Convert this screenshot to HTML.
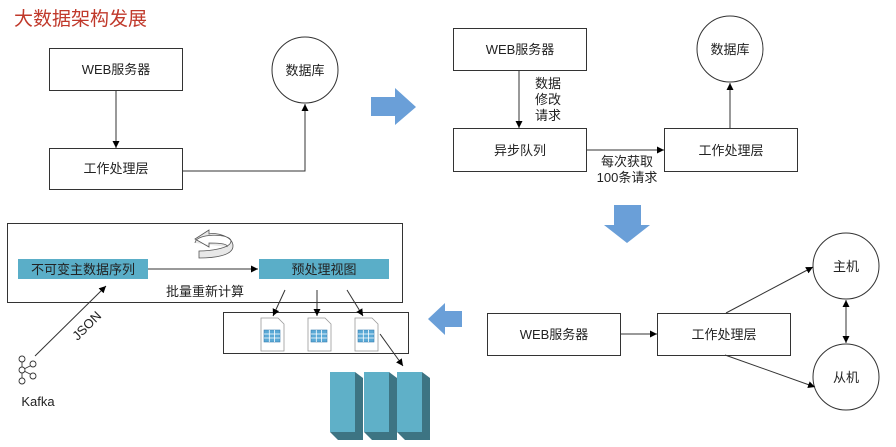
<!DOCTYPE html>
<html><head><meta charset="utf-8"><style>
html,body{margin:0;padding:0;background:#fff;}
svg{display:block;font-family:"Liberation Sans","Noto Sans CJK SC",sans-serif;}
</style></head><body>
<svg width="896" height="447" viewBox="0 0 896 447" xmlns="http://www.w3.org/2000/svg">
<defs>
<marker id="a" markerWidth="8" markerHeight="8" refX="7" refY="4" orient="auto" markerUnits="userSpaceOnUse"><path d="M0,0.5 L7,4 L0,7.5z" fill="#000"/></marker>
<marker id="as" markerWidth="8" markerHeight="8" refX="1" refY="4" orient="auto" markerUnits="userSpaceOnUse"><path d="M8,0.5 L1,4 L8,7.5z" fill="#000"/></marker>
<g id="doc"><path d="M0,0 h17 l6,6 v27 h-23z" fill="#fff" stroke="#999" stroke-width="0.8"/><rect x="3" y="12" width="16" height="12" fill="#5aa9d6" stroke="#3a7fb0" stroke-width="0.6"/><path d="M3,16h16M3,20h16M8.3,12v12M13.6,12v12" stroke="#fff" stroke-width="0.8"/></g>
<g id="srv"><path d="M25,0 l8,6 v62 h-8z" fill="#3d7483"/><path d="M0,60 h25 l8,8 h-25z" fill="#3d7483"/><rect x="0" y="0" width="25" height="60" fill="#5fb0c8"/></g>
</defs>
<text x="14" y="25" font-size="19" fill="#c0392b">大数据架构发展</text>
<g stroke="#333" stroke-width="1" fill="#fff">
<rect x="49.5" y="48.5" width="133" height="42"/>
<rect x="49.5" y="148.5" width="133" height="41"/>
<circle cx="305" cy="70" r="33"/>
<rect x="453.5" y="28.5" width="133" height="42"/>
<rect x="453.5" y="128.5" width="133" height="43"/>
<rect x="664.5" y="128.5" width="133" height="43"/>
<circle cx="730" cy="49" r="33"/>
<rect x="487.5" y="313.5" width="133" height="42"/>
<rect x="657.5" y="313.5" width="133" height="42"/>
<circle cx="846" cy="266" r="33"/>
<circle cx="846" cy="377" r="33"/>
<rect x="7.5" y="223.5" width="395" height="79"/>
<rect x="223.5" y="312.5" width="185" height="41"/>
</g>
<g stroke="#333" stroke-width="1" fill="none">
<line x1="116" y1="91" x2="116" y2="148" marker-end="url(#a)"/>
<polyline points="182,171 305,171 305,104" marker-end="url(#a)"/>
<line x1="519" y1="71" x2="519" y2="128" marker-end="url(#a)"/>
<line x1="587" y1="150" x2="664" y2="150" marker-end="url(#a)"/>
<line x1="730" y1="128" x2="730" y2="83" marker-end="url(#a)"/>
<line x1="621" y1="334" x2="657" y2="334" marker-end="url(#a)"/>
<line x1="726" y1="313" x2="813" y2="267" marker-end="url(#a)"/>
<line x1="725" y1="355" x2="815" y2="387" marker-end="url(#a)"/>
<line x1="846" y1="300" x2="846" y2="343" marker-end="url(#a)" marker-start="url(#as)"/>
<line x1="148" y1="269" x2="258" y2="269" marker-end="url(#a)"/>
<line x1="35" y1="356" x2="106" y2="286" marker-end="url(#a)"/>
<line x1="285" y1="290" x2="273" y2="316" marker-end="url(#a)"/>
<line x1="317" y1="290" x2="317" y2="316" marker-end="url(#a)"/>
<line x1="347" y1="290" x2="363" y2="316" marker-end="url(#a)"/>
<line x1="380" y1="334" x2="403" y2="366" marker-end="url(#a)"/>
</g>
<g fill="#6a9fd8">
<path d="M371,97 h24 v-9 l21,19 l-21,18 v-9 h-24z"/>
<path d="M614,205 h27 v20 h9 l-23,18 l-23,-18 h10z"/>
<path d="M462,311 h-17 v-8 l-17,16 l17,16 v-8 h17z"/>
</g>
<rect x="18" y="259" width="130" height="20" fill="#5aaec8"/>
<rect x="259" y="259" width="130" height="20" fill="#5aaec8"/>
<path d="M195,243 c0,-10 36,-10 36,-2 c0,8 -24,10 -32,10 l0,7 c14,0 34,-2 34,-12 c0,-10 -18,-14 -24,-12 v-4 l-14,9 l14,8 v-4 c4,0 20,0 18,4" fill="#e8e8e8" stroke="#555" stroke-width="0.8"/>
<use href="#doc" x="261" y="318"/><use href="#doc" x="308" y="318"/><use href="#doc" x="355" y="318"/>
<use href="#srv" x="330" y="372"/><use href="#srv" x="364" y="372"/><use href="#srv" x="397" y="372"/>
<g stroke="#333" stroke-width="0.9" fill="#fff">
<line x1="22" y1="370" x2="32" y2="365"/><line x1="22" y1="370" x2="32" y2="375"/><line x1="22" y1="362" x2="22" y2="378"/>
<circle cx="22" cy="359" r="3"/><circle cx="22" cy="370" r="3"/><circle cx="22" cy="381" r="3"/><circle cx="33" cy="364" r="3"/><circle cx="33" cy="376" r="3"/>
</g>
<g font-size="13" fill="#222" text-anchor="middle">
<text x="116" y="74">WEB服务器</text>
<text x="116" y="173">工作处理层</text>
<text x="305" y="75">数据库</text>
<text x="520" y="54">WEB服务器</text>
<text x="520" y="155">异步队列</text>
<text x="731" y="155">工作处理层</text>
<text x="730" y="54">数据库</text>
<text x="548" y="88">数据</text><text x="548" y="104">修改</text><text x="548" y="120">请求</text>
<text x="627" y="166">每次获取</text><text x="627" y="182">100条请求</text>
<text x="554" y="339">WEB服务器</text>
<text x="724" y="339">工作处理层</text>
<text x="846" y="271">主机</text>
<text x="846" y="382">从机</text>
<text x="83" y="274">不可变主数据序列</text>
<text x="324" y="274">预处理视图</text>
<text x="205" y="296">批量重新计算</text>
<text x="38" y="406">Kafka</text>
<text x="87" y="330" transform="rotate(-45 87 326)">JSON</text>
</g>
</svg>
</body></html>
